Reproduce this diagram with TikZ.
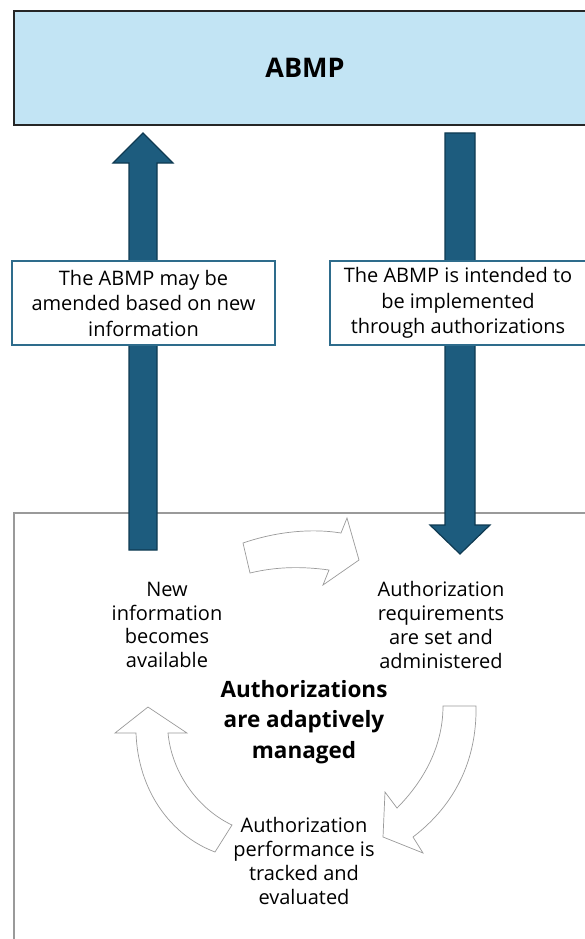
\documentclass[tikz,border=0pt]{standalone}
\usepackage{fontspec}
\setmainfont{Open Sans}
\usetikzlibrary{positioning}

\definecolor{abmpfill}{HTML}{C2E4F4}
\definecolor{arrowfill}{HTML}{1D5C7E}
\definecolor{arrowedge}{HTML}{0F3A52}
\definecolor{noteedge}{HTML}{2E6C8C}
\definecolor{cyclegray}{HTML}{9A9A9A}

\begin{document}
\begin{tikzpicture}[x=1pt,y=-1pt,node distance=10pt,
    abmpbox/.style={draw=black!85,fill=abmpfill,line width=1.2pt,minimum width=582pt,minimum height=114pt,font=\fontsize{27}{32}\selectfont\bfseries},
    notebox/.style={draw=noteedge,fill=white,line width=1.5pt,minimum height=84pt,inner sep=2pt,align=center,font=\fontsize{20}{25.5}\selectfont},
    flowarrow/.style={draw=arrowedge,fill=arrowfill,line width=1.2pt,line join=miter},
    cyclearrow/.style={draw=cyclegray,fill=white,line width=0.7pt},
    steptext/.style={align=center,font=\fontsize{20}{23.7}\selectfont},
    hubtext/.style={align=center,font=\fontsize{22.5}{30.5}\selectfont\bfseries}]

            \useasboundingbox (0,0) rectangle (584,939);

            % lower frame, runs off the page
            \draw[cyclegray,line width=1.3pt] (600,513) -- (14,513) -- (14,960);

            \node[abmpbox] (abmp) at (305,68) {ABMP};

            % up and down arrows
            \coordinate (upfoot) at (143,550);
            \coordinate (uptip) at (143,133);
            \coordinate (downtop) at (460,133);
            \coordinate (downtip) at (460,554);

            \draw[flowarrow] (upfoot) ++(-14,0) -- ++(0,-387) -- ++(-16,0) -- (uptip)
                -- ++(30,30) -- ++(-16,0) -- ++(0,387) -- cycle;
            \draw[flowarrow] (downtop) ++(-15,0) -- ++(0,392) -- ++(-15,0) -- (downtip)
                -- ++(30,-29) -- ++(-15,0) -- ++(0,-392) -- cycle;

            \node[notebox,minimum width=263pt] (amend) at (143.5,303)
                {The ABMP may be\\amended based on new\\information};
            \node[notebox,minimum width=256pt] (implement) at (458,303)
                {The ABMP is intended to\\be implemented\\through authorizations};

            % cycle
            \draw[cyclearrow] (243,543) .. controls (275,532) and (310,528) .. (341,533)
                -- (347,518) -- (359,560) -- (323,585) -- (329,570)
                .. controls (300,566) and (275,567) .. (250,573) -- cycle;
            \draw[cyclearrow] (443,706) -- (476,706) .. controls (477,760) and (455,805) .. (413,837)
                -- (423,853) -- (383,837) -- (385,792) -- (397,808)
                .. controls (420,785) and (443,750) .. cycle;
            \draw[cyclearrow] (148,707) -- (187,733) -- (168,733)
                .. controls (172,775) and (200,810) .. (232,825) -- (215,852)
                .. controls (170,835) and (138,790) .. (136,733) -- (115,733) -- cycle;

            \node[steptext] (newinfo) at (167,625) {New\\information\\becomes\\available};
            \node[steptext] (setreq) at (441,625) {Authorization\\requirements\\are set and\\administered};
            \node[hubtext] (adaptive) at (304,722) {Authorizations\\are adaptively\\managed};
            \node[steptext] (tracked) [below=139pt of adaptive.center,anchor=center] {Authorization\\performance is\\tracked and\\evaluated};

        \end{tikzpicture}
\end{document}
